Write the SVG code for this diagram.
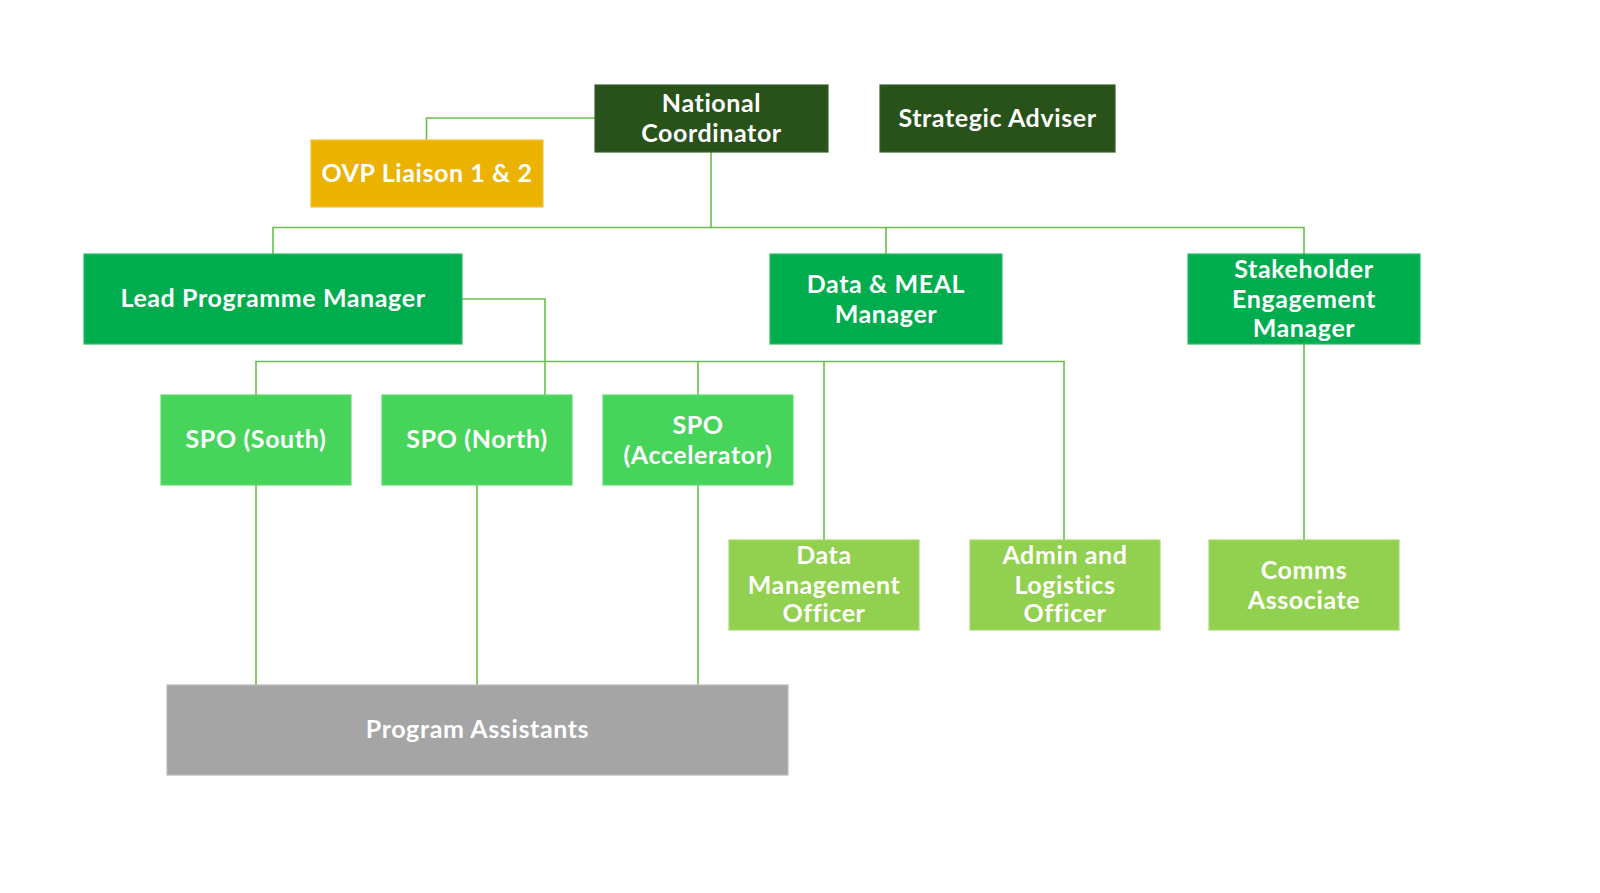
<svg xmlns="http://www.w3.org/2000/svg" width="1600" height="893" viewBox="0 0 1600 893">
<style>
.t{font-family:Lato,"Open Sans","Liberation Sans",sans-serif;font-weight:700;font-size:25px;letter-spacing:0.6px;fill:#ffffff;text-anchor:middle}
.c{fill:none;stroke:#6cbd4a;stroke-width:1.6}
.dk{fill:#285219;stroke:#35622a;stroke-width:1.2}
.ovp{fill:#ebb300;stroke:#efc238;stroke-width:1.2}
.md{fill:#00ad4e;stroke:#2dbd68;stroke-width:1.2}
.sp{fill:#47d45a;stroke:#62da72;stroke-width:1.2}
.lt{fill:#92d050;stroke:#a6da72;stroke-width:1.2}
.gr{fill:#a5a5a5;stroke:#bababa;stroke-width:1.2}
</style>
<rect width="1600" height="893" fill="#ffffff"/>
<g id="connectors">
<path class="c" d="M595 118 H426.5 V140"/>
<path class="c" d="M711 152 V227.5"/>
<path class="c" d="M273 254 V227.5 H1304 V254"/>
<path class="c" d="M886 227.5 V254"/>
<path class="c" d="M462 299 H545 V395"/>
<path class="c" d="M256 395 V361.5 H1064 V540"/>
<path class="c" d="M698 361.5 V395"/>
<path class="c" d="M824 361.5 V540"/>
<path class="c" d="M1304 344 V540"/>
<path class="c" d="M256 485 V685"/>
<path class="c" d="M477 485 V685"/>
<path class="c" d="M698 485 V685"/>
</g>
<g id="national-coordinator">
<rect class="dk" x="595" y="85" width="233" height="67"/>
<text class="t" x="711.5" y="112">National</text>
<text class="t" x="711.5" y="142">Coordinator</text>
</g>
<g id="strategic-adviser">
<rect class="dk" x="880" y="85" width="235" height="67"/>
<text class="t" x="997.5" y="127">Strategic Adviser</text>
</g>
<g id="ovp-liaison">
<rect class="ovp" x="311" y="140" width="232" height="67"/>
<text class="t" x="427" y="182">OVP Liaison 1 &amp; 2</text>
</g>
<g id="lead-programme-manager">
<rect class="md" x="84" y="254" width="378" height="90"/>
<text class="t" x="273" y="307">Lead Programme Manager</text>
</g>
<g id="data-meal-manager">
<rect class="md" x="770" y="254" width="232" height="90"/>
<text class="t" x="886" y="293">Data &amp; MEAL</text>
<text class="t" x="886" y="323">Manager</text>
</g>
<g id="stakeholder-engagement-manager">
<rect class="md" x="1188" y="254" width="232" height="90"/>
<text class="t" x="1304" y="278">Stakeholder</text>
<text class="t" x="1304" y="308">Engagement</text>
<text class="t" x="1304" y="337">Manager</text>
</g>
<g id="spo-south">
<rect class="sp" x="161" y="395" width="190" height="90"/>
<text class="t" x="256" y="448">SPO (South)</text>
</g>
<g id="spo-north">
<rect class="sp" x="382" y="395" width="190" height="90"/>
<text class="t" x="477" y="448">SPO (North)</text>
</g>
<g id="spo-accelerator">
<rect class="sp" x="603" y="395" width="190" height="90"/>
<text class="t" x="698" y="434">SPO</text>
<text class="t" x="698" y="464">(Accelerator)</text>
</g>
<g id="data-management-officer">
<rect class="lt" x="729" y="540" width="190" height="90"/>
<text class="t" x="824" y="564">Data</text>
<text class="t" x="824" y="594">Management</text>
<text class="t" x="824" y="622">Officer</text>
</g>
<g id="admin-logistics-officer">
<rect class="lt" x="970" y="540" width="190" height="90"/>
<text class="t" x="1065" y="564">Admin and</text>
<text class="t" x="1065" y="594">Logistics</text>
<text class="t" x="1065" y="622">Officer</text>
</g>
<g id="comms-associate">
<rect class="lt" x="1209" y="540" width="190" height="90"/>
<text class="t" x="1304" y="579">Comms</text>
<text class="t" x="1304" y="609">Associate</text>
</g>
<g id="program-assistants">
<rect class="gr" x="167" y="685" width="621" height="90"/>
<text class="t" x="477.5" y="738">Program Assistants</text>
</g>
</svg>
